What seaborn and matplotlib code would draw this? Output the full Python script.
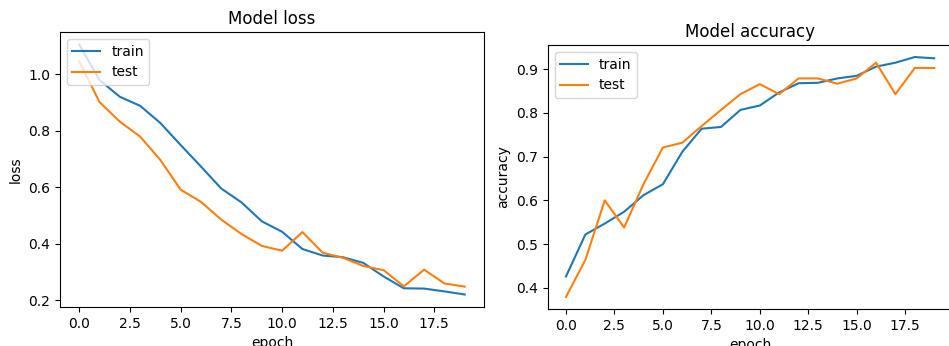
import matplotlib.pyplot as plt
import numpy as np
import pandas as pd
import seaborn as sns

EPOCHS = list(range(20))

TRAIN_LOSS = [1.105, 0.979, 0.920, 0.888, 0.827, 0.749, 0.673, 0.595, 0.546, 0.479,
              0.442, 0.381, 0.358, 0.352, 0.332, 0.284, 0.242, 0.241, 0.231, 0.220]
TEST_LOSS = [1.045, 0.901, 0.832, 0.779, 0.696, 0.591, 0.548, 0.485, 0.434, 0.392,
             0.375, 0.441, 0.368, 0.350, 0.321, 0.306, 0.249, 0.308, 0.259, 0.248]

TRAIN_ACC = [0.426, 0.522, 0.547, 0.574, 0.612, 0.637, 0.711, 0.764, 0.768, 0.807,
             0.817, 0.847, 0.868, 0.869, 0.879, 0.885, 0.906, 0.915, 0.928, 0.925]
TEST_ACC = [0.379, 0.464, 0.600, 0.538, 0.637, 0.721, 0.732, 0.770, 0.807, 0.843,
            0.866, 0.843, 0.879, 0.879, 0.867, 0.879, 0.915, 0.843, 0.903, 0.903]

SERIES = ['train', 'test']
COLORS = ['#1f77b4', '#ff7f0e']


def long_form(train, test, name):
    return pd.DataFrame({
        'epoch': EPOCHS * 2,
        name: train + test,
        'series': ['train'] * len(train) + ['test'] * len(test),
    })


def draw(ax, df, name, title):
    sns.lineplot(df, x='epoch', y=name, hue='series', hue_order=SERIES,
                 palette=COLORS, ax=ax)
    sns.move_legend(ax, 'upper left', title=None)
    ax.set_title(title)
    ax.set_xlabel('epoch')
    ax.set_ylabel(name)


def main():
    fig = plt.figure(figsize=(9.49, 3.46), dpi=100)
    ax1 = fig.add_axes([0.0632, 0.1127, 0.4468, 0.7948])
    ax2 = fig.add_axes([0.5770, 0.1069, 0.4268, 0.7630])

    draw(ax1, long_form(TRAIN_LOSS, TEST_LOSS, 'loss'), 'loss', 'Model loss')
    draw(ax2, long_form(TRAIN_ACC, TEST_ACC, 'accuracy'), 'accuracy', 'Model accuracy')

    fig.savefig('out.png', dpi=100)


if __name__ == '__main__':
    main()
